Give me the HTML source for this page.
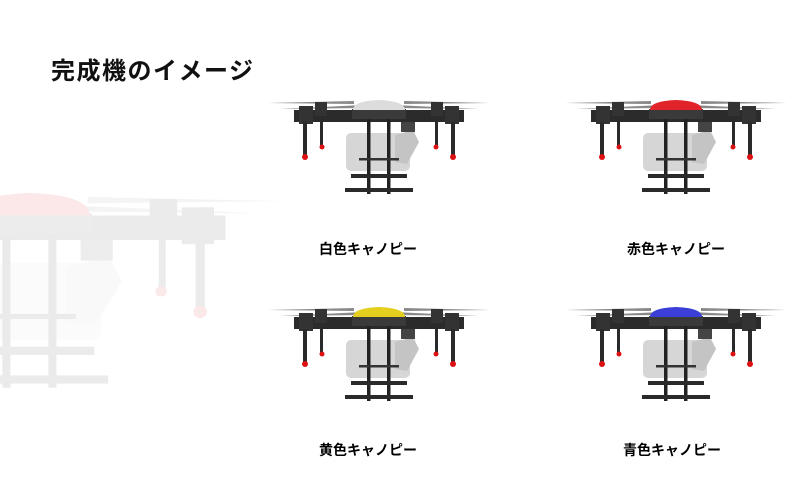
<!DOCTYPE html>
<html><head><meta charset="utf-8">
<style>
html,body{margin:0;padding:0;background:#fff;}
body{width:800px;height:498px;overflow:hidden;position:relative;font-family:"Liberation Sans","Noto Sans CJK JP",sans-serif;}
.t{position:absolute;left:51px;top:51px;font-size:24px;font-weight:bold;letter-spacing:1.5px;color:#111;white-space:nowrap;}
.l{position:absolute;font-size:14px;color:#000;white-space:nowrap;transform:translateX(-50%);font-weight:bold;}
svg{position:absolute;left:0;top:0;}
</style></head><body>
<svg width="800" height="498" viewBox="0 0 800 498">
<defs>
<g id="body">
  <path d="M-111 3 L-25 1 L-25 4 Z M-100 9 L-15 5 L-15 8 Z M111 3 L25 1 L25 4 Z M100 9 L15 5 L15 8 Z" fill="#8a8a8a"/>
  <rect x="-85" y="10" width="170" height="12" fill="#2b2b2b"/>
  <rect x="-80" y="6" width="14" height="18" fill="#333"/>
  <rect x="66" y="6" width="14" height="18" fill="#333"/>
  <rect x="-64" y="2" width="12" height="14" fill="#333"/>
  <rect x="52" y="2" width="12" height="14" fill="#333"/>
  <rect x="-76" y="22" width="4" height="35" fill="#2a2a2a"/>
  <rect x="72" y="22" width="4" height="35" fill="#2a2a2a"/>
  <rect x="-59" y="20" width="3" height="26" fill="#2a2a2a"/>
  <rect x="56" y="20" width="3" height="26" fill="#2a2a2a"/>
  <circle cx="-74" cy="57" r="3" fill="#d11"/>
  <circle cx="74" cy="57" r="3" fill="#d11"/>
  <circle cx="-57" cy="47" r="2.5" fill="#d11"/>
  <circle cx="57" cy="47" r="2.5" fill="#d11"/>
  <rect x="-33" y="33" width="64" height="38" rx="5" fill="#d6d6d6"/>
  <path d="M16 35 L34 30 L40 42 L28 64 L16 62 Z" fill="#c4c4c4"/>
  <rect x="22" y="22" width="14" height="10" fill="#444"/>
  <rect x="-12" y="14" width="3.5" height="80" fill="#222"/>
  <rect x="8" y="14" width="3.5" height="80" fill="#222"/>
  <rect x="-28" y="74" width="56" height="4" fill="#2a2a2a"/>
  <rect x="-34" y="88" width="68" height="4" fill="#2a2a2a"/>
  <rect x="-20" y="58" width="40" height="2.5" fill="#333"/>
  <rect x="-27" y="9" width="54" height="10" fill="#3a3a3a"/>
</g>
</defs>
<g opacity="0.09" transform="translate(30,195) scale(2.3,2.05)">
  <use href="#body"/>
  <path d="M-26 10 Q-26 0 0 -1 Q26 0 26 10 Z" fill="#e01010"/>
</g>
<g transform="translate(379,100)"><use href="#body"/><path d="M-26 10 Q-26 1 0 0 Q26 1 26 10 Z" fill="#dcdcdc"/></g>
<g transform="translate(676,100)"><use href="#body"/><path d="M-26 10 Q-26 1 0 0 Q26 1 26 10 Z" fill="#e0242a"/></g>
<g transform="translate(379,307)"><use href="#body"/><path d="M-26 10 Q-26 1 0 0 Q26 1 26 10 Z" fill="#e5cf1e"/></g>
<g transform="translate(676,307)"><use href="#body"/><path d="M-26 10 Q-26 1 0 0 Q26 1 26 10 Z" fill="#3b3fd8"/></g>
</svg>
<div class="t">完成機のイメージ</div>
<div class="l" style="left:368px;top:239px;">白色キャノピー</div>
<div class="l" style="left:676px;top:239px;">赤色キャノピー</div>
<div class="l" style="left:368px;top:440px;">黄色キャノピー</div>
<div class="l" style="left:672px;top:440px;">青色キャノピー</div>
</body></html>
